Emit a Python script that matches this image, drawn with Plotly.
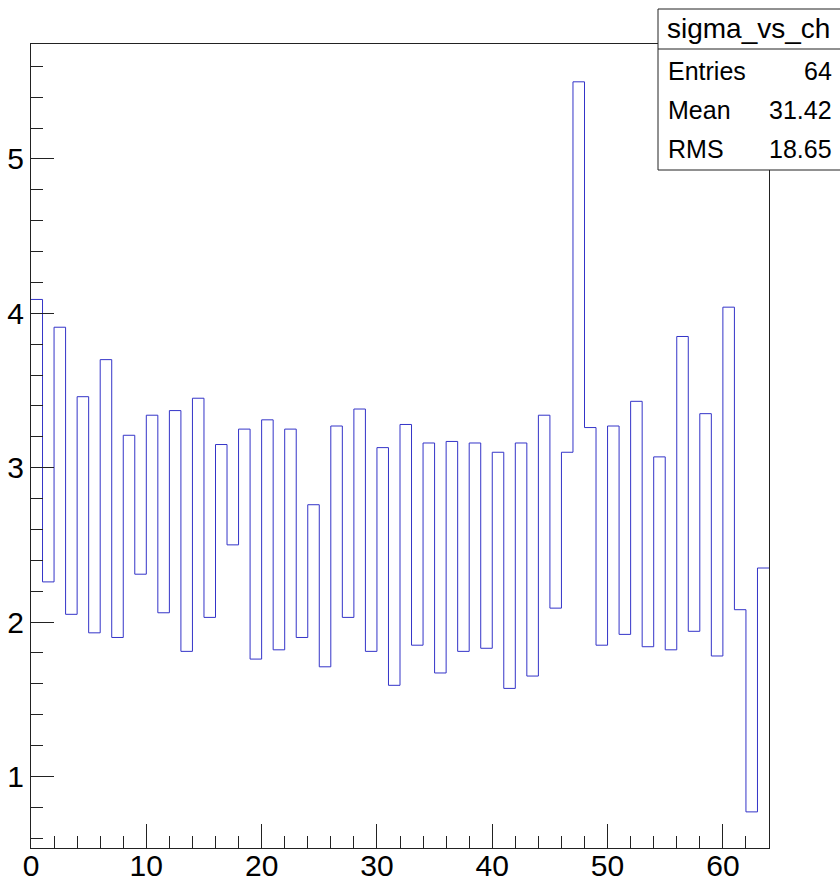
import plotly.graph_objects as go

# Per-channel sigma (64 channels, bin width 1)
channels = list(range(64))
sigma = [
    4.09, 2.26, 3.91, 2.05, 3.46, 1.93, 3.70, 1.90,
    3.21, 2.31, 3.34, 2.06, 3.37, 1.81, 3.45, 2.03,
    3.15, 2.50, 3.25, 1.76, 3.31, 1.82, 3.25, 1.90,
    2.76, 1.71, 3.27, 2.03, 3.38, 1.81, 3.13, 1.59,
    3.28, 1.85, 3.16, 1.67, 3.17, 1.81, 3.16, 1.83,
    3.10, 1.57, 3.16, 1.65, 3.34, 2.09, 3.10, 5.50,
    3.26, 1.85, 3.27, 1.92, 3.43, 1.84, 3.07, 1.82,
    3.85, 1.94, 3.35, 1.78, 4.04, 2.08, 0.77, 2.35,
]

stats_title = "sigma_vs_ch"
stats_labels = ["Entries", "Mean", "RMS"]
stats_values = ["64", "31.42", "18.65"]

W, H = 840, 884
ML, MR, MT, MB = 31, 71, 44, 36
PW, PH = W - ML - MR, H - MT - MB


def px(x):
    return (x - ML) / PW


def py(y):
    return (H - MB - y) / PH


# step outline: bin edges with the last value repeated to close the final bin
edges = channels + [channels[-1] + 1]
levels = sigma + [sigma[-1]]

fig = go.Figure()
fig.add_trace(go.Scatter(
    x=edges, y=levels, mode="lines", line_shape="hv",
    line=dict(color="#3434c8", width=1), hoverinfo="skip", showlegend=False,
))

font = "Liberation Sans, Arial, Helvetica, sans-serif"
axis_common = dict(
    showgrid=False, zeroline=False, showline=True, mirror=True, automargin=False,
    linecolor="#222222", linewidth=1, ticks="inside", tickcolor="#222222",
    tickwidth=1, tickfont=dict(family=font, size=30, color="black"),
)

fig.update_xaxes(range=[0, 64], tick0=0, dtick=10, ticklen=24, ticklabelstandoff=-9,
                 minor=dict(dtick=2, ticklen=12, ticks="inside", tickcolor="#222222"),
                 **axis_common)
fig.update_yaxes(range=[0.536, 5.745], tick0=0, dtick=1, ticklen=23,
                 minor=dict(dtick=0.2, ticklen=12, ticks="inside", tickcolor="#222222"),
                 **axis_common)

# statistics box
box_l, box_r, box_t, box_sep, box_b = 658, 848, 9, 49, 170
shapes = [
    dict(type="rect", xref="paper", yref="paper", layer="above",
         x0=px(box_l), x1=px(box_r), y0=py(box_b), y1=py(box_t),
         line=dict(color="#222222", width=1), fillcolor="white"),
    dict(type="line", xref="paper", yref="paper", layer="above",
         x0=px(box_l), x1=px(box_r), y0=py(box_sep), y1=py(box_sep),
         line=dict(color="#222222", width=1)),
]
annotations = [
    dict(text=stats_title, xref="paper", yref="paper", x=px(665), y=py(29),
         xanchor="left", yanchor="middle", showarrow=False,
         font=dict(family=font, size=28, color="black")),
]
row_y = [71, 110, 149]
for lab, val, yy in zip(stats_labels, stats_values, row_y):
    annotations.append(dict(text=lab, xref="paper", yref="paper", x=px(666), y=py(yy),
                            xanchor="left", yanchor="middle", showarrow=False,
                            font=dict(family=font, size=25, color="black")))
    annotations.append(dict(text=val, xref="paper", yref="paper", x=px(834), y=py(yy),
                            xanchor="right", yanchor="middle", showarrow=False,
                            font=dict(family=font, size=25, color="black")))

fig.update_layout(
    width=W, height=H, margin=dict(l=ML, r=MR, t=MT, b=MB, pad=0),
    paper_bgcolor="white", plot_bgcolor="white",
    shapes=shapes, annotations=annotations,
)

fig.write_html("out.html")
